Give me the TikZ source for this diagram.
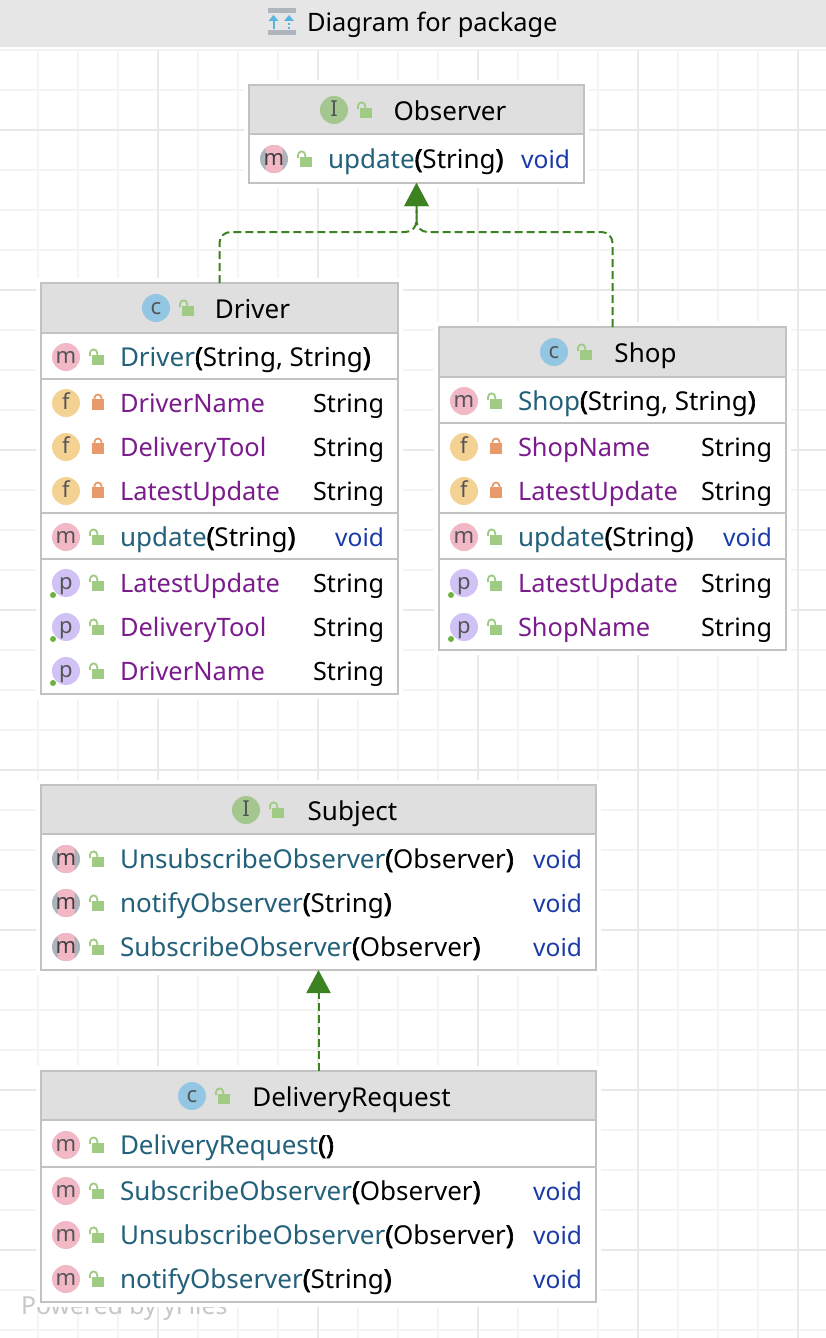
\documentclass[tikz,border=0pt]{standalone}
\usepackage{fontspec}
\setmainfont{Noto Sans}
\newfontface\heavyface[FakeBold=2.5]{Noto Sans}
\usetikzlibrary{arrows.meta,calc}
\definecolor{gridminor}{HTML}{F4F4F4}
\definecolor{gridmajor}{HTML}{E9E9E9}
\definecolor{topbar}{HTML}{E6E6E6}
\definecolor{headfill}{HTML}{DFDFDF}
\definecolor{boxline}{HTML}{C2C2C2}
\definecolor{depgreen}{HTML}{3C8220}
\definecolor{methc}{HTML}{23607A}
\definecolor{fieldc}{HTML}{7B1C8C}
\definecolor{voidc}{HTML}{1A3AA8}
\definecolor{inkc}{HTML}{555555}
\definecolor{icm}{HTML}{F2B8C6}
\definecolor{icf}{HTML}{F4D294}
\definecolor{icp}{HTML}{D0C2F4}
\definecolor{icc}{HTML}{93C6E2}
\definecolor{ici}{HTML}{A3C78F}
\definecolor{icab}{HTML}{ADB3BA}
\definecolor{lockg}{HTML}{9FCB82}
\definecolor{locko}{HTML}{E89A6C}
\definecolor{dotg}{HTML}{6CB33F}
\definecolor{arrowb}{HTML}{5AB4E0}
\definecolor{bargrey}{HTML}{AEB5BC}
\newcommand{\fs}{\fontsize{26}{30}\selectfont}
\newcount\nodeno
\newcommand{\nx}{\global\advance\nodeno by 1 }
\tikzset{
  x=1pt,y=-1pt,
  classbox/.style={draw=boxline,line width=2pt,fill=white,outer sep=0pt,inner sep=0pt},
  sepline/.style={draw=boxline,line width=2pt},
  lbl/.style={inner sep=0pt,outer sep=0pt,font=\fs,text=black},
  typelbl/.style={inner sep=0pt,outer sep=0pt,font=\fontsize{25.2}{30}\selectfont,text=black},
  voidlbl/.style={inner sep=0pt,outer sep=0pt,font=\fontsize{24.6}{30}\selectfont,text=voidc},
  fieldlbl/.style={inner sep=0pt,outer sep=0pt,font=\fontsize{25.4}{30}\selectfont,text=fieldc},
  iconlet/.style={inner sep=0pt,outer sep=0pt,text=inkc,font=\fontsize{22}{24}\selectfont},
  dep/.style={draw=depgreen,line width=2pt,dash pattern=on 8pt off 4pt,rounded corners=11pt,
     -{Triangle[length=23pt,width=24pt,fill=depgreen]}},
}
% class box: name, x1, y1, x2, y2, header bottom
\newcommand{\classbox}[6]{%
  \fill[white] (#2-5,#3-5) rectangle (#4+5,#5+5);
  \node[classbox,minimum width=#4pt-#2pt,minimum height=#5pt-#3pt] (#1) at ({(#2+#4)/2},{(#3+#5)/2}) {};
  \fill[headfill] (#1.north west) rectangle (#1.east |- 0,#6);
  \draw[sepline] (#1.north west) rectangle (#1.south east);
  \draw[sepline] (#1.west |- 0,#6) -- (#1.east |- 0,#6);
}
\newcommand{\sep}[2]{\draw[sepline] (#1.west |- 0,#2) -- (#1.east |- 0,#2);}
\newcommand{\openlock}[2]{%
  \fill[lockg] (#1-6,#2-2) rectangle (#1+6,#2+8);
  \draw[lockg,line width=1.8pt] (#1-8,#2-1) -- (#1-8,#2-4) arc[start angle=180,end angle=360,radius=3.6] -- (#1-0.8,#2-2);
}
\newcommand{\closedlock}[2]{%
  \fill[locko] (#1-6,#2-4) rectangle (#1+6,#2+7);
  \draw[locko,line width=1.8pt] (#1-3.5,#2-4) -- (#1-3.5,#2-5) arc[start angle=180,end angle=360,radius=3.5] -- (#1+3.5,#2-4);
}
\newcommand{\icon}[4]{% x y color letter
  \fill[#3] (#1,#2) circle[radius=14];
  \nx\node[iconlet,anchor=base] (n\the\nodeno) at (#1,#2+6) {#4};
}
\newcommand{\absicon}[2]{%
  \fill[icab] (#1,#2) circle[radius=14];
  \begin{scope}
    \clip (#1-8.5,#2-14) rectangle (#1+8.5,#2+14);
    \fill[icm] (#1,#2) circle[radius=14];
  \end{scope}
  \nx\node[iconlet,anchor=base,text=black!75] (n\the\nodeno) at (#1,#2+6) {m};
}
\newcommand{\mrow}[6]{% cx y name params type right
  \icon{#1}{#2}{icm}{m}\openlock{#1+32}{#2}
  \nx\node[lbl,anchor=base west] (n\the\nodeno) at (#1+54,#2+9) {\textcolor{methc}{#3}#4};
  \nx\node[voidlbl,anchor=base east] (n\the\nodeno) at (#6,#2+9) {#5};
}
\newcommand{\arow}[6]{% abstract
  \absicon{#1}{#2}\openlock{#1+32}{#2}
  \nx\node[lbl,anchor=base west] (n\the\nodeno) at (#1+54,#2+9) {\textcolor{methc}{#3}#4};
  \nx\node[voidlbl,anchor=base east] (n\the\nodeno) at (#6,#2+9) {#5};
}
\newcommand{\frow}[4]{% cx y name right
  \icon{#1}{#2}{icf}{f}\closedlock{#1+32}{#2}
  \nx\node[fieldlbl,anchor=base west] (n\the\nodeno) at (#1+54,#2+9) {#3};
  \nx\node[typelbl,anchor=base east] (n\the\nodeno) at (#4,#2+9) {String};
}
\newcommand{\prow}[4]{%
  \icon{#1}{#2}{icp}{p}\openlock{#1+32}{#2}
  \fill[dotg] (#1-13,#2+12) circle[radius=3];
  \nx\node[fieldlbl,anchor=base west] (n\the\nodeno) at (#1+54,#2+9) {#3};
  \nx\node[typelbl,anchor=base east] (n\the\nodeno) at (#4,#2+9) {String};
}
\newcommand{\titlerow}[6]{% cx y color letter title titlecenter
  \icon{#1}{#2}{#3}{#4}\openlock{#1+32}{#2}
  \nx\node[lbl,anchor=base] (n\the\nodeno) at (#6,#2+10) {#5};
}
\newcommand{\pa}[1]{{\heavyface(}#1{\heavyface)}}
\begin{document}
\begin{tikzpicture}
\useasboundingbox (0,0) rectangle (826,1338);
\fill[white] (0,0) rectangle (826,1338);
% grid
\foreach \k in {0,...,20} {\pgfmathsetmacro\gx{38+40*\k}
  \draw[gridminor,line width=2pt] (\gx,50) -- (\gx,1338);}
\foreach \k in {0,...,32} {\pgfmathsetmacro\gy{50+40*\k}
  \draw[gridminor,line width=2pt] (0,\gy) -- (826,\gy);}
\foreach \k in {0,...,4} {\pgfmathsetmacro\gx{158+160*\k}
  \draw[gridmajor,line width=2pt] (\gx,50) -- (\gx,1338);}
\foreach \k in {0,...,7} {\pgfmathsetmacro\gy{130+160*\k}
  \draw[gridmajor,line width=2pt] (0,\gy) -- (826,\gy);}
% top bar
\fill[topbar] (0,0) rectangle (826,47);
\fill[bargrey] (268,8) rectangle (296,13.5);
\fill[bargrey] (268,30) rectangle (296,35);
\draw[arrowb,line width=2pt] (273.5,29) -- (273.5,20);
\fill[arrowb] (273.5,15) -- (268.5,21) -- (278.5,21) -- cycle;
\draw[arrowb,line width=2pt,dash pattern=on 2pt off 2pt] (289,29) -- (289,20);
\fill[arrowb] (289,15) -- (284,21) -- (294,21) -- cycle;
\node[lbl,anchor=base west,font=\fontsize{25.4}{30}\selectfont] (toptitle) at (307,32) {Diagram for package};
% watermark
\node[lbl,anchor=base west,text=black!22,font=\fontsize{24.8}{28}\selectfont] (powered) at (21,1314) {Powered by yFiles};
% Observer
\classbox{observer}{249}{85}{584}{183}{134}
\titlerow{334}{110}{ici}{I}{Observer}{450}
\arow{274}{159}{update}{\pa{String}}{void}{570}
% Driver
\classbox{driver}{41}{283}{398}{694}{333}
\titlerow{156}{308}{icc}{c}{Driver}{252.5}
\mrow{66}{357}{Driver}{\pa{String, String}}{}{384}
\sep{driver}{379}
\frow{66}{403}{DriverName}{384}
\frow{66}{447}{DeliveryTool}{384}
\frow{66}{491}{LatestUpdate}{384}
\sep{driver}{513}
\mrow{66}{537}{update}{\pa{String}}{void}{384}
\sep{driver}{559}
\prow{66}{583}{LatestUpdate}{384}
\prow{66}{627}{DeliveryTool}{384}
\prow{66}{671}{DriverName}{384}
% Shop
\classbox{shop}{439}{327}{786}{650}{377}
\titlerow{554}{352}{icc}{c}{Shop}{645.5}
\mrow{464}{401}{Shop}{\pa{String, String}}{}{772}
\sep{shop}{423}
\frow{464}{447}{ShopName}{772}
\frow{464}{491}{LatestUpdate}{772}
\sep{shop}{513}
\mrow{464}{537}{update}{\pa{String}}{void}{772}
\sep{shop}{559}
\prow{464}{583}{LatestUpdate}{772}
\prow{464}{627}{ShopName}{772}
% Subject
\classbox{subject}{41}{785}{596}{970}{834}
\titlerow{246}{810}{ici}{I}{Subject}{352.5}
\arow{66}{859}{UnsubscribeObserver}{\pa{Observer}}{void}{582}
\arow{66}{903}{notifyObserver}{\pa{String}}{void}{582}
\arow{66}{947}{SubscribeObserver}{\pa{Observer}}{void}{582}
% DeliveryRequest
\classbox{delivery}{41}{1071}{596}{1302}{1120}
\titlerow{192}{1096}{icc}{c}{DeliveryRequest}{351.5}
\mrow{66}{1145}{DeliveryRequest}{\pa{}}{}{582}
\sep{delivery}{1167}
\mrow{66}{1191}{SubscribeObserver}{\pa{Observer}}{void}{582}
\mrow{66}{1235}{UnsubscribeObserver}{\pa{Observer}}{void}{582}
\mrow{66}{1279}{notifyObserver}{\pa{String}}{void}{582}
% connectors
\coordinate (junction) at (observer.south |- 0,232);
\draw[dep] (driver.north) |- (junction) -- (observer.south);
\draw[dep] (shop.north) |- (junction) -- (observer.south);
\draw[dep,rounded corners=0pt] (delivery.north) -- (subject.south);
\end{tikzpicture}
\end{document}
